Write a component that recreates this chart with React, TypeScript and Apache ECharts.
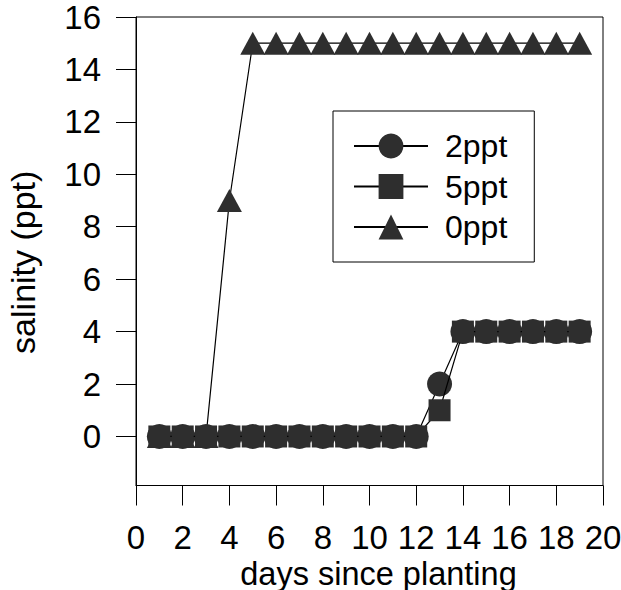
import React, { useEffect, useRef } from "react";
import * as echarts from "echarts";

const days = [1, 2, 3, 4, 5, 6, 7, 8, 9, 10, 11, 12, 13, 14, 15, 16, 17, 18, 19];
const ppt2 = [0, 0, 0, 0, 0, 0, 0, 0, 0, 0, 0, 0, 2, 4, 4, 4, 4, 4, 4];
const ppt5 = [0, 0, 0, 0, 0, 0, 0, 0, 0, 0, 0, 0, 1, 4, 4, 4, 4, 4, 4];
const ppt0 = [0, 0, 0, 9, 15, 15, 15, 15, 15, 15, 15, 15, 15, 15, 15, 15, 15, 15, 15];
const seriesNames = ["2ppt", "5ppt", "0ppt"];
const yTicks = [0, 2, 4, 6, 8, 10, 12, 14, 16];

const FONT = "'Liberation Sans', Arial, sans-serif";
const MARK = "#2e2e2e";

export default function App() {
  const ref = useRef<HTMLDivElement>(null);
  useEffect(() => {
    if (!ref.current) return;
    const chart = echarts.init(ref.current, undefined, { renderer: "svg" });
    const pair = (vals: number[]) => days.map((d, i) => [d, vals[i]]);
    chart.setOption({
      animation: false,
      backgroundColor: "#ffffff",
      textStyle: { fontFamily: FONT, color: "#000" },
      grid: {
        left: 136,
        top: 17,
        width: 467,
        height: 468.5,
        containLabel: false,
        outerBoundsMode: "none",
        show: true,
        borderColor: "#000",
        borderWidth: 1,
      },
      legend: {
        data: seriesNames,
        orient: "vertical",
        left: 333,
        top: 111,
        itemWidth: 74,
        itemHeight: 31,
        itemGap: 8.5,
        padding: [19, 27, 19, 20],
        borderColor: "#000",
        borderWidth: 1,
        textStyle: { fontFamily: FONT, fontSize: 32, color: "#000", padding: [0, 0, 0, 12] },
      },
      xAxis: {
        type: "value",
        min: 0,
        max: 20,
        interval: 2,
        name: "days since planting",
        nameLocation: "middle",
        nameGap: 75,
        nameMoveOverlap: false,
        nameTextStyle: { fontFamily: FONT, fontSize: 32.5, lineHeight: 26, color: "#000", padding: [0, 0, 0, 18] },
        splitLine: { show: false },
        axisLine: { show: true, onZero: false, lineStyle: { color: "#000", width: 1 } },
        axisTick: { show: true, length: 20, lineStyle: { color: "#000", width: 1 } },
        axisLabel: { fontFamily: FONT, fontSize: 33, lineHeight: 24, color: "#000", margin: 40 },
      },
      yAxis: {
        type: "value",
        min: -1.87,
        max: 16,
        name: "salinity (ppt)",
        nameLocation: "middle",
        nameRotate: 90,
        nameGap: 96,
        nameMoveOverlap: false,
        nameTextStyle: { fontFamily: FONT, fontSize: 34, color: "#000", padding: [0, 22, 0, 0] },
        splitLine: { show: false },
        axisLine: { show: true, onZero: false, lineStyle: { color: "#000", width: 1 } },
        axisTick: { show: true, length: 20, customValues: yTicks, lineStyle: { color: "#000", width: 1 } },
        axisLabel: { fontFamily: FONT, fontSize: 33, color: "#000", margin: 35, customValues: yTicks },
      },
      series: [
        {
          name: "0ppt",
          type: "line",
          z: 1,
          data: pair(ppt0),
          symbol: "triangle",
          symbolSize: [25, 23],
          itemStyle: { color: MARK },
          lineStyle: { color: "#000", width: 1.2 },
        },
        {
          name: "2ppt",
          type: "line",
          z: 2,
          data: pair(ppt2),
          symbol: "circle",
          symbolSize: 25,
          itemStyle: { color: MARK },
          lineStyle: { color: "#000", width: 1.2 },
        },
        {
          name: "5ppt",
          type: "line",
          z: 3,
          data: pair(ppt5),
          symbol: "rect",
          symbolSize: 22,
          itemStyle: { color: MARK },
          lineStyle: { color: "#000", width: 1.2 },
        },
      ],
    });
    return () => chart.dispose();
  }, []);
  return (
    <div
      ref={ref}
      style={{ position: "fixed", left: 0, top: 0, width: 621, height: 590 }}
    />
  );
}
